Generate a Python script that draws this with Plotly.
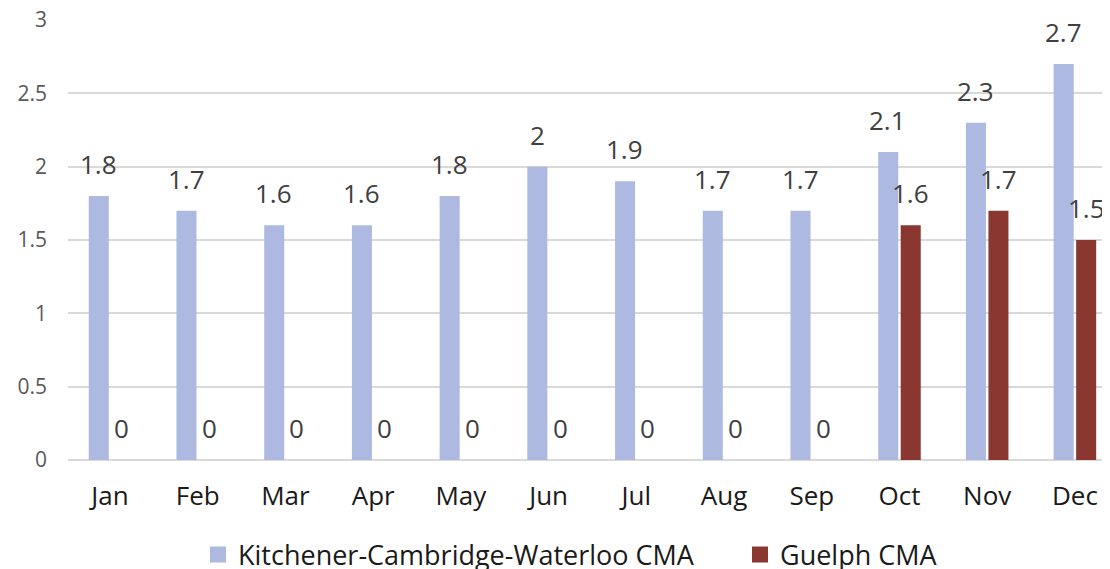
import plotly.graph_objects as go

months = ["Jan", "Feb", "Mar", "Apr", "May", "Jun", "Jul", "Aug", "Sep", "Oct", "Nov", "Dec"]
kcw = [1.8, 1.7, 1.6, 1.6, 1.8, 2.0, 1.9, 1.7, 1.7, 2.1, 2.3, 2.7]
guelph = [0, 0, 0, 0, 0, 0, 0, 0, 0, 1.6, 1.7, 1.5]
y_ticks = [0, 0.5, 1, 1.5, 2, 2.5, 3]
y_tick_labels = ["0", "0.5", "1", "1.5", "2", "2.5", "3"]
series_names = ["Kitchener-Cambridge-Waterloo CMA", "Guelph CMA"]

C_KCW = "#adb9e0"
C_GUE = "#8b3731"
FONT = "Open Sans"
W, H = 1102, 561

fig = go.Figure()
for vals, name, color, leg in ((kcw, series_names[0], C_KCW, "legend"),
                               (guelph, series_names[1], C_GUE, "legend2")):
    fig.add_trace(go.Bar(x=months, y=vals, name=name, legendgroup=name, showlegend=False,
                         marker=dict(color=color, line=dict(width=0))))
    # legend-only proxy with a larger square swatch
    fig.add_trace(go.Scatter(x=[None], y=[None], mode="markers", name=name,
                             legendgroup=name, legend=leg, showlegend=True,
                             marker=dict(symbol="square", size=17, color=color,
                                         line=dict(width=0))))

annotations = []
for series, shift in ((kcw, -11.5), (guelph, 11.5)):
    for m, v in zip(months, series):
        annotations.append(dict(
            x=m, y=v, xref="x", yref="y", text=f"{v:g}", showarrow=False,
            xshift=shift, yshift=12, yanchor="bottom", xanchor="center",
            font=dict(family=FONT, size=26, color="#404040")))

leg_common = dict(orientation="h", xref="container", yref="container",
                  xanchor="left", y=14 / H, yanchor="middle", itemwidth=30,
                  font=dict(family=FONT, size=27, color="#1a1a1a"),
                  bgcolor="rgba(0,0,0,0)")

fig.update_layout(
    width=W, height=H,
    margin=dict(l=60, r=0, t=12, b=H - 452, autoexpand=False),
    paper_bgcolor="white", plot_bgcolor="white",
    barmode="group", bargap=0.487, bargroupgap=0.11,
    font=dict(family=FONT),
    annotations=annotations,
    showlegend=True,
    legend=dict(x=190 / W, **leg_common),
    legend2=dict(x=732 / W, **leg_common),
    xaxis=dict(range=[-0.479, 11.4], showgrid=False, showline=False, automargin=False,
               tickfont=dict(family=FONT, size=26, color="#1a1a1a"),
               ticks="", ticklabelstandoff=18, fixedrange=True),
    yaxis=dict(range=[0, 3], tickvals=y_ticks, ticktext=y_tick_labels, automargin=False,
               showgrid=True, gridcolor="#d9d9d9", gridwidth=1.5,
               zeroline=True, zerolinecolor="#d9d9d9", zerolinewidth=1.5,
               showline=False, ticks="", ticklabelstandoff=20,
               ticklabeloverflow="allow",
               tickfont=dict(family=FONT, size=21, color="#595959")),
)

fig.write_html("out.html")
